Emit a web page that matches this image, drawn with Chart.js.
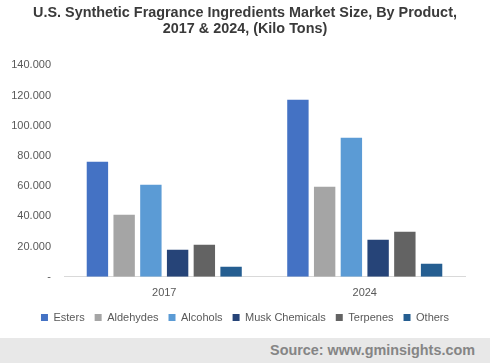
<!DOCTYPE html>
<html>
<head>
<meta charset="utf-8">
<script src="https://cdn.jsdelivr.net/npm/chart.js@4/dist/chart.umd.min.js"></script>
<style>
  html, body { margin: 0; padding: 0; background: #fff; }
  #wrap { width: 490px; height: 338px; position: relative; }
  #footer {
    width: 490px; height: 25px; background: #e8e8e8;
    font: bold 14.4px "Liberation Sans", Arial, sans-serif; color: #858585;
    text-align: right; box-sizing: border-box; padding-right: 15px; line-height: 25px;
  }
</style>
</head>
<body>
<div id="wrap"><canvas id="chart"></canvas></div>
<div id="footer">Source: www.gminsights.com</div>
<script>
// Data
const years = ['2017', '2024'];
const products = ['Esters', 'Aldehydes', 'Alcohols', 'Musk Chemicals', 'Terpenes', 'Others'];
const esters = [76.2, 117.2];
const aldehydes = [41.0, 59.6];
const alcohols = [61.0, 92.0];
const muskChemicals = [17.9, 24.5];
const terpenes = [21.2, 29.8];
const others = [6.6, 8.6];
const productColors = ['#4472c4', '#a5a5a5', '#5b9bd5', '#264478', '#636363', '#255e91'];

const seriesValues = [esters, aldehydes, alcohols, muskChemicals, terpenes, others];

const tickFont = { family: '"Liberation Sans", Arial, sans-serif', size: 11 };

new Chart(document.getElementById('chart').getContext('2d'), {
    type: 'bar',
    data: {
        labels: years,
        datasets: products.map((name, i) => ({
            label: name,
            data: seriesValues[i],
            backgroundColor: productColors[i],
            barPercentage: 0.8,
            categoryPercentage: 0.8
        }))
    },
    options: {
        responsive: true,
        maintainAspectRatio: false,
        animation: false,
        layout: { padding: { left: 0, right: 0, top: 2, bottom: 5 } },
        plugins: {
            title: {
                display: true,
                text: ['U.S. Synthetic Fragrance Ingredients Market Size, By Product,', '2017 & 2024, (Kilo Tons)'],
                color: '#3a3a3a',
                font: { family: '"Liberation Sans", Arial, sans-serif', size: 14.4, weight: 'bold', lineHeight: 1.12 },
                padding: { top: 3, bottom: 28 }
            },
            legend: {
                position: 'bottom',
                labels: {
                    boxWidth: 7,
                    boxHeight: 7,
                    color: '#595959',
                    font: { family: '"Liberation Sans", Arial, sans-serif', size: 11 },
                    padding: 10
                }
            },
            tooltip: { enabled: false }
        },
        scales: {
            y: {
                min: 0,
                max: 140,
                afterFit: scale => { scale.width = 64; },
                ticks: {
                    stepSize: 20,
                    color: '#595959',
                    font: tickFont,
                    padding: 5,
                    callback: value => value === 0 ? '-' : value.toFixed(3)
                },
                grid: { display: false },
                border: { display: false }
            },
            // empty right-hand gutter so the plot ends where the reference does
            gutter: {
                position: 'right',
                afterFit: scale => { scale.width = 25; },
                ticks: { display: false },
                grid: { display: false },
                border: { display: false }
            },
            x: {
                ticks: { color: '#595959', font: tickFont, padding: 2 },
                grid: { display: false },
                border: { display: true, color: '#d9d9d9' }
            }
        }
    }
});
</script>
</body>
</html>
